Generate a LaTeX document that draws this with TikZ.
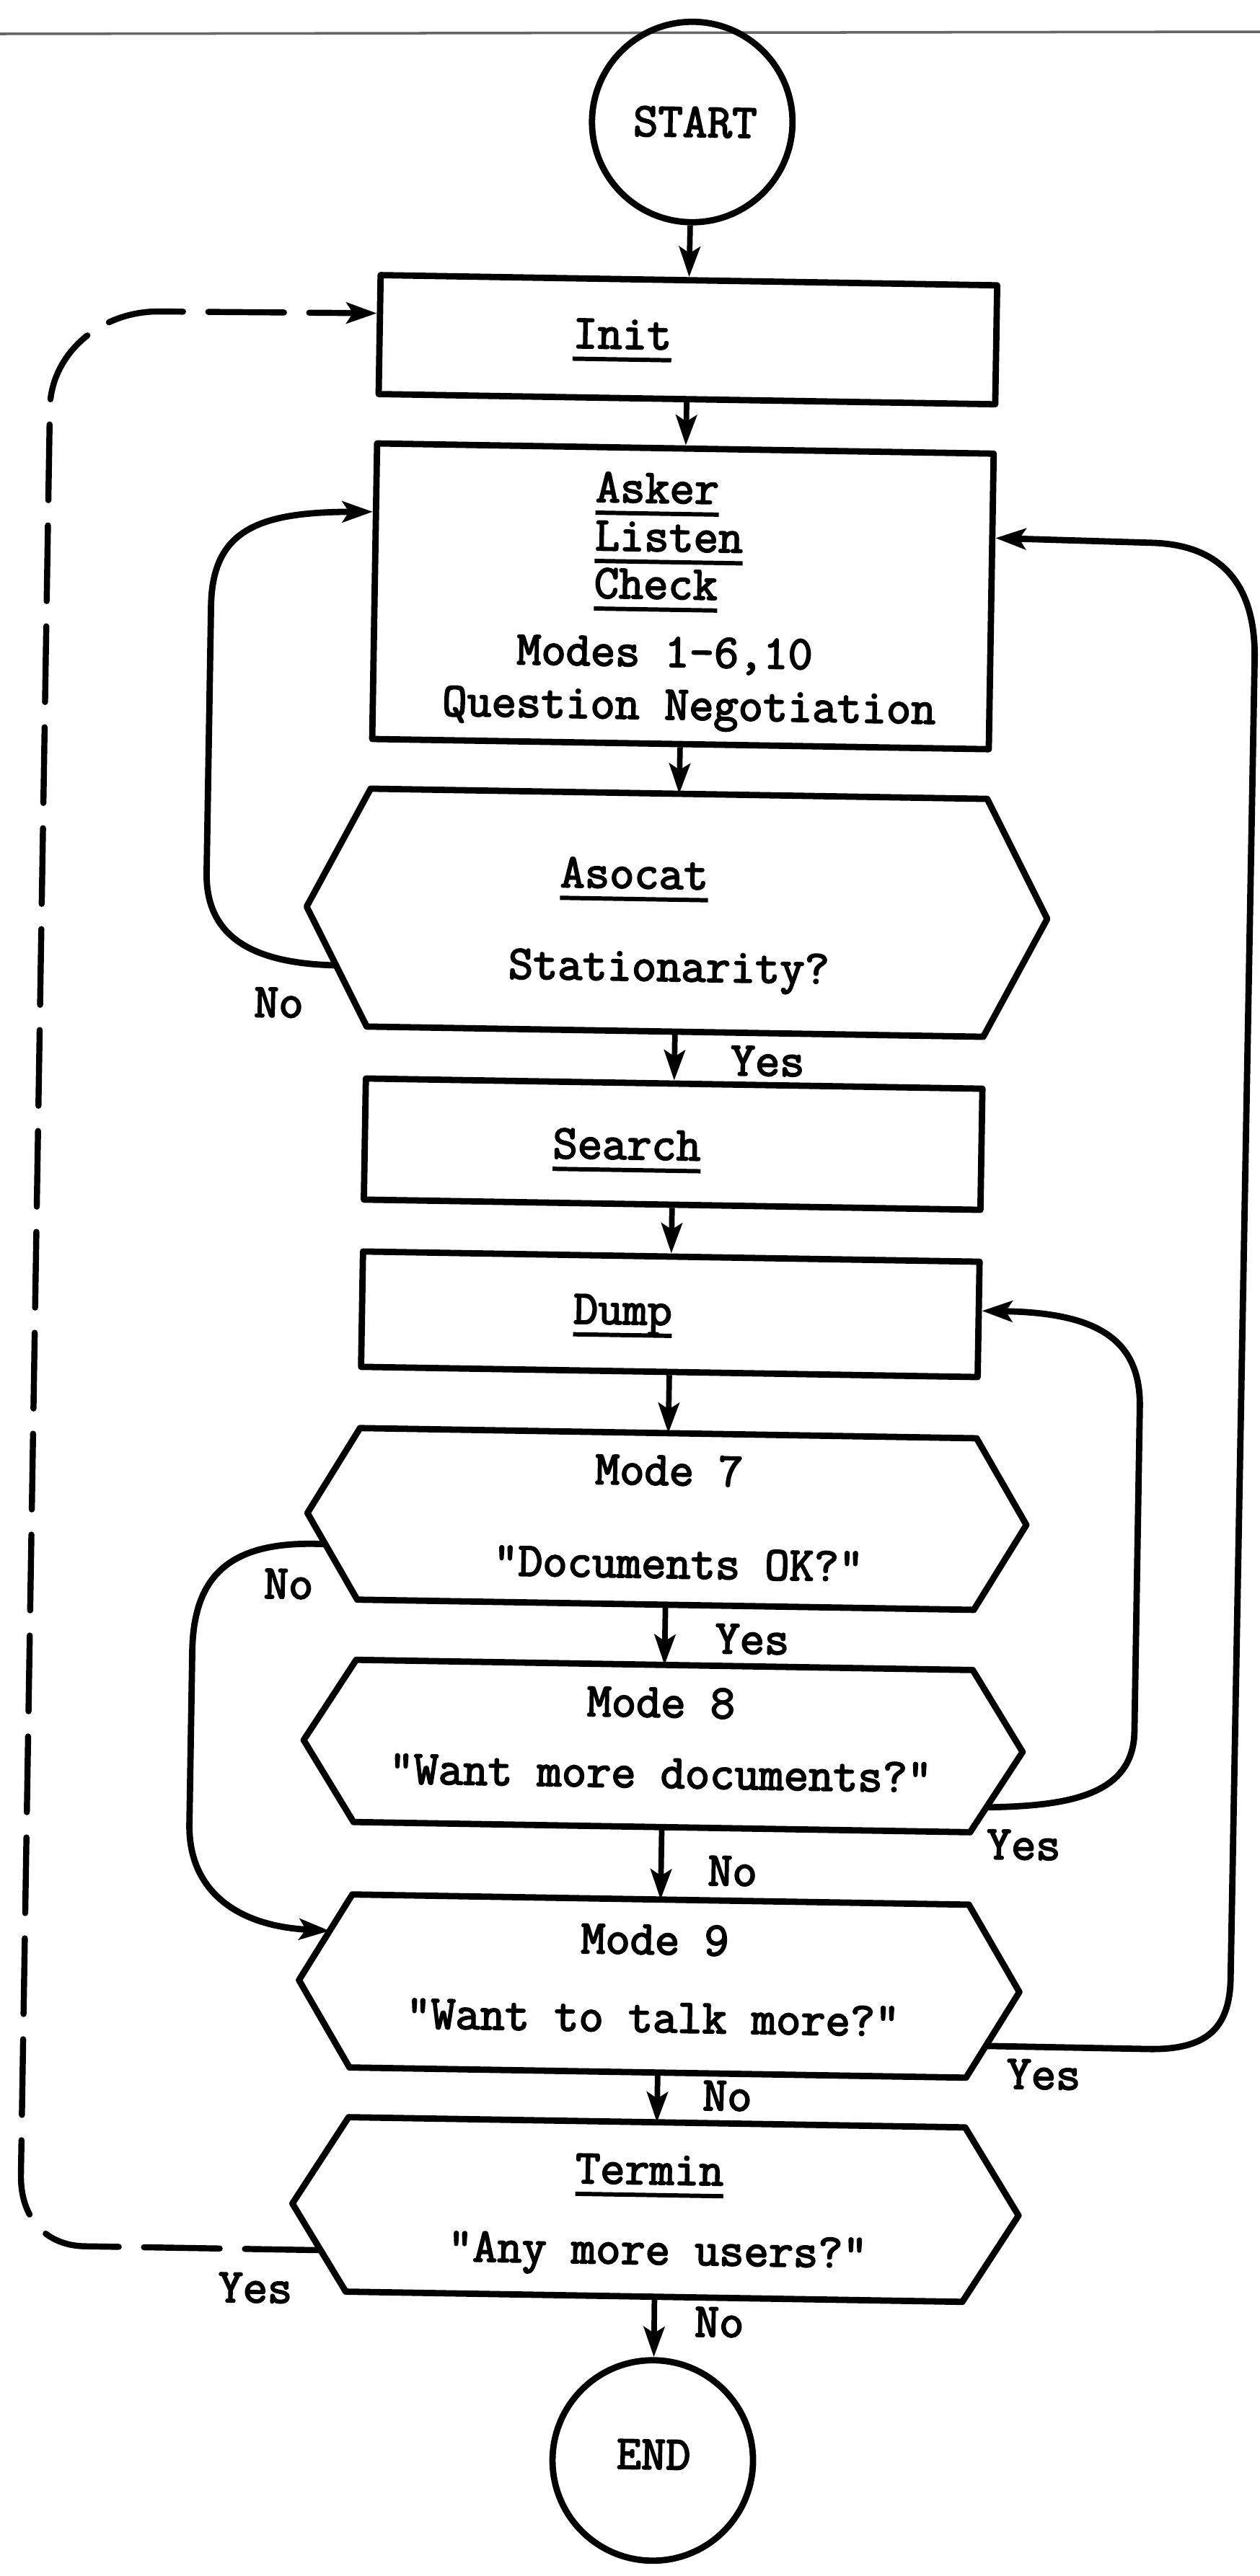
\documentclass[tikz,border=0pt]{standalone}
\usepackage{fontspec}
\setmonofont{Latin Modern Mono}[FakeBold=3]
\usetikzlibrary{arrows.meta,calc}

% thick underline under the routine names
\newcommand{\ulword}[1]{\setbox0=\hbox{#1}\rlap{\rule[-5.1pt]{\wd0}{1.7pt}}\box0}

\begin{document}
\begin{tikzpicture}[x=1cm,y=1cm,line join=round,
    font=\ttfamily\fontsize{18.9}{19}\selectfont,
    >={Stealth[length=4.2mm,width=2.9mm,inset=0.9mm]},
    shapeline/.style={line width=2.5pt},
    procbox/.style={draw,shapeline,rectangle,minimum width=8.55cm,inner sep=0pt},
    hexbox/.style={rectangle,inner sep=0pt,outer sep=0pt,minimum width=8.55cm},
    term/.style={draw,shapeline,circle,minimum size=2.78cm,inner sep=0pt},
    flow/.style={->,line width=2.2pt},
    loopline/.style={->,line width=2.5pt},
    backline/.style={->,line width=2.4pt,line cap=round,dash pattern=on 10.5mm off 3.5mm},
    lbl/.style={anchor=base,inner sep=0pt}]
\useasboundingbox (0,0) rectangle (17.47,-35.73);
% edge of the page
\draw[line width=1pt,black!60] (0,-0.47) -- (17.47,-0.44);

\begin{scope}[rotate around={-0.95:(8.735,-17.865)},transform shape]
% shapes
\node[term] (start) at (9.33,-1.68) {};
\node[procbox,minimum height=1.65cm] (init) at (9.32,-4.70) {};
\node[procbox,minimum height=4.10cm] (asker) at (9.31,-8.26) {};
\node[hexbox,minimum height=3.30cm] (asocat) at (9.30,-12.65) {};
\node[procbox,minimum height=1.68cm] (search) at (9.30,-15.86) {};
\node[procbox,minimum height=1.60cm] (dump) at (9.30,-18.22) {};
\node[hexbox,minimum height=2.38cm] (modeseven) at (9.30,-21.06) {};
\node[hexbox,minimum height=2.25cm] (modeeight) at (9.30,-24.21) {};
\node[hexbox,minimum height=2.40cm] (modenine) at (9.30,-27.54) {};
\node[hexbox,minimum height=2.42cm] (termin) at (9.30,-30.64) {};
\node[term] (end) at (9.32,-34.12) {};

% decision boxes
\foreach \n/\t in {asocat/0.86,modeseven/0.71,modeeight/0.71,modenine/0.72,termin/0.76}
  \draw[shapeline] (\n.north west) -- (\n.north east) -- ([xshift=\t cm]\n.east) coordinate (\n-r)
    -- (\n.south east) -- (\n.south west) -- ([xshift=-\t cm]\n.west) coordinate (\n-l) -- cycle;

% texts
\node[lbl] (starttxt) at (9.37,-1.885) {START};
\node[lbl] (inittxt) at (8.41,-4.84) {\ulword{Init}};
\node[lbl,anchor=base west] (askertxt) at (8.07,-6.97) {\ulword{Asker}};
\node[lbl,anchor=base west] (listentxt) at (8.07,-7.64) {\ulword{Listen}};
\node[lbl,anchor=base west] (checktxt) at (8.07,-8.30) {\ulword{Check}};
\node[lbl] (modestxt) at (9.07,-9.24) {Modes 1-6,10};
\node[lbl] (negtxt) at (9.42,-9.97) {Question Negotiation};
\node[lbl] (asocattxt) at (8.70,-12.32) {\ulword{Asocat}};
\node[lbl] (stattxt) at (9.20,-13.60) {Stationarity?};
\node[lbl] (searchtxt) at (8.66,-16.08) {\ulword{Search}};
\node[lbl] (dumptxt) at (8.64,-18.37) {\ulword{Dump}};
\node[lbl] (sevtxt) at (9.32,-20.59) {Mode 7};
\node[lbl] (okq) at (9.47,-21.88) {"Documents OK?"};
\node[lbl] (eighttxt) at (9.26,-23.81) {Mode 8};
\node[lbl] (moreq) at (9.27,-24.79) {"Want more documents?"};
\node[lbl] (ninetxt) at (9.23,-27.10) {Mode 9};
\node[lbl] (talkq) at (9.22,-28.18) {"Want to talk more?"};
\node[lbl] (termintxt) at (9.21,-30.29) {\ulword{Termin}};
\node[lbl] (usersq) at (9.34,-31.40) {"Any more users?"};
\node[lbl] (endtxt) at (9.33,-34.24) {END};

% answers
\node[lbl] (yesasocat) at (10.59,-14.89) {Yes};
\node[lbl] (noasocat) at (3.80,-14.19) {No};
\node[lbl] (yesseven) at (10.51,-22.91) {Yes};
\node[lbl] (noseven) at (4.07,-22.25) {No};
\node[lbl] (yeseight) at (14.32,-25.70) {Yes};
\node[lbl] (noeight) at (10.29,-26.13) {No};
\node[lbl] (yesnine) at (14.65,-28.88) {Yes};
\node[lbl] (nonine) at (10.27,-29.25) {No};
\node[lbl] (notermin) at (10.21,-32.39) {No};
\node[lbl] (yestermin) at (3.77,-32.02) {Yes};

% main flow
\draw[flow] (start) -- (init);
\draw[flow] (init) -- (asker);
\draw[flow] (asker) -- (asocat);
\draw[flow] (asocat) -- (search);
\draw[flow] (search) -- (dump);
\draw[flow] (dump) -- (modeseven);
\draw[flow] (modeseven) -- (modeeight);
\draw[flow] (modeeight) -- (modenine);
\draw[flow] (modenine) -- (termin);
\draw[flow] (termin) -- (end);

% loops back
\draw[loopline] ($(asocat-l)!0.49!(asocat.south west)$) .. controls (3.6,-13.45) and (2.77,-13.2) .. (2.77,-12.2)
  -- (2.77,-8.5) .. controls (2.77,-7.45) and (3.4,-7.19) .. ($(asker.north west)!0.237!(asker.south west)$);
\draw[loopline] ($(modenine-r)!0.63!(modenine.south east)$) -- (16.1,-28.30) .. controls (16.9,-28.30) and (17.22,-28.0) .. (17.22,-27.3)
  -- (17.25,-9.0) .. controls (17.25,-7.9) and (16.7,-7.42) .. (15.8,-7.41) -- ($(asker.north east)!0.29!(asker.south east)$);
\draw[loopline] ($(modeeight-r)!0.69!(modeeight.south east)$) .. controls (14.9,-24.95) and (15.83,-24.8) .. (15.83,-23.9)
  -- (15.83,-19.4) .. controls (15.83,-18.45) and (15.2,-18.10) .. ($(dump.north east)!0.43!(dump.south east)$);
\draw[loopline] ($(modeseven-l)!0.36!(modeseven.south west)$) .. controls (3.3,-21.45) and (2.75,-21.9) .. (2.75,-23.0)
  -- (2.75,-25.4) .. controls (2.75,-26.3) and (3.4,-26.8) .. ($(modenine-l)!0.575!(modenine.north west)$);
\draw[backline] ($(termin-l)!0.53!(termin.south west)$) -- (1.4,-31.28) .. controls (0.85,-31.28) and (0.495,-30.9) .. (0.495,-30.3)
  -- (0.49,-5.8) .. controls (0.49,-5.04) and (1.17,-4.43) .. (2.0,-4.43) -- ($(init.north west)!0.33!(init.south west)$);
\end{scope}
\end{tikzpicture}
\end{document}
